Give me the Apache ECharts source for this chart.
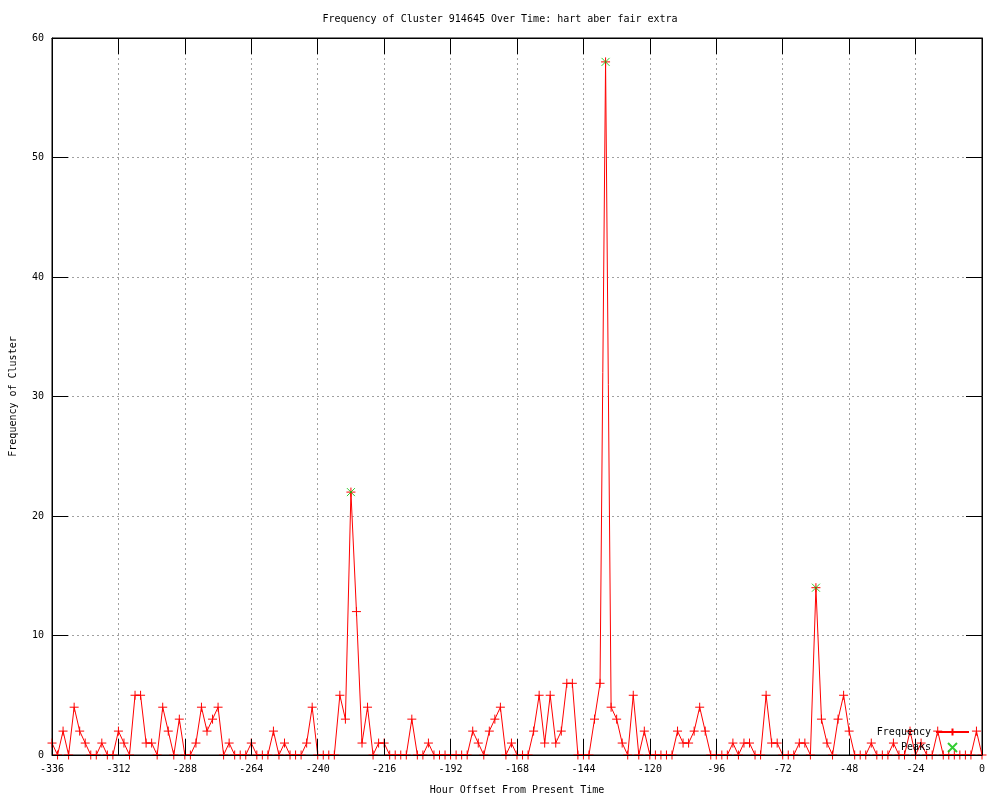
<!DOCTYPE html>
<html>
<head>
<meta charset="utf-8">
<script src="https://cdn.jsdelivr.net/npm/echarts@6/dist/echarts.min.js"></script>
<style>html,body{margin:0;padding:0;background:#fff}#c{width:1000px;height:800px}</style>
</head>
<body>
<div id="c"></div>
<script>
var hours = [-336,-334,-332,-330,-328,-326,-324,-322,-320,-318,-316,-314,-312,-310,-308,-306,-304,-302,-300,-298,
-296,-294,-292,-290,-288,-286,-284,-282,-280,-278,-276,-274,-272,-270,-268,-266,-264,-262,-260,-258,
-256,-254,-252,-250,-248,-246,-244,-242,-240,-238,-236,-234,-232,-230,-228,-226,-224,-222,-220,-218,
-216,-214,-212,-210,-208,-206,-204,-202,-200,-198,-196,-194,-192,-190,-188,-186,-184,-182,-180,-178,
-176,-174,-172,-170,-168,-166,-164,-162,-160,-158,-156,-154,-152,-150,-148,-146,-144,-142,-140,-138,
-136,-134,-132,-130,-128,-126,-124,-122,-120,-118,-116,-114,-112,-110,-108,-106,-104,-102,-100,-98,
-96,-94,-92,-90,-88,-86,-84,-82,-80,-78,-76,-74,-72,-70,-68,-66,-64,-62,-60,-58,
-56,-54,-52,-50,-48,-46,-44,-42,-40,-38,-36,-34,-32,-30,-28,-26,-24,-22,-20,-18,
-16,-14,-12,-10,-8,-6,-4,-2,0];
var frequency = [1,0,2,0,4,2,1,0,0,1,0,0,2,1,0,5,5,1,1,0,
4,2,0,3,0,0,1,4,2,3,4,0,1,0,0,0,1,0,0,0,
2,0,1,0,0,0,1,4,0,0,0,0,5,3,22,12,1,4,0,1,
1,0,0,0,0,3,0,0,1,0,0,0,0,0,0,0,2,1,0,2,
3,4,0,1,0,0,0,2,5,1,5,1,2,6,6,0,0,0,3,6,
58,4,3,1,0,5,0,2,0,0,0,0,0,2,1,1,2,4,2,0,
0,0,0,1,0,1,1,0,0,5,1,1,0,0,0,1,1,0,14,3,
1,0,3,5,2,0,0,0,1,0,0,0,1,0,0,2,0,1,0,0,
2,0,0,0,0,0,0,2,0];
var peakHours = [-228, -136, -60];
var peakValues = [22, 58, 14];
var xTicks = {min: -336, max: 0, interval: 24};
var yTicks = {min: 0, max: 60, interval: 10};

var freqData = hours.map(function (h, i) { return [h, frequency[i]]; });
var peakData = peakHours.map(function (h, i) { return [h, peakValues[i]]; });

var FONT = 'DejaVu Sans Mono';
var chart = echarts.init(document.getElementById('c'), null, {renderer: 'canvas'});
var plus = 'path://M0,4L8,4M4,0L4,8';
var cross = 'path://M0,0L8,8M0,8L8,0';
chart.setOption({
  animation: false,
  backgroundColor: '#ffffff',
  textStyle: {fontFamily: FONT, fontSize: 10, color: '#000'},
  title: {
    text: 'Frequency of Cluster 914645 Over Time: hart aber fair extra',
    left: 'center', top: 9,
    textStyle: {fontFamily: FONT, fontSize: 10, fontWeight: 'normal', color: '#000'}
  },
  legend: {
    orient: 'vertical', align: 'right', right: 30, top: 727, padding: 0,
    itemWidth: 33, itemHeight: 9, itemGap: 5,
    textStyle: {fontFamily: FONT, fontSize: 10, color: '#000'},
    data: ['Frequency', 'Peaks']
  },
  grid: {left: 49, right: 18, top: 38, bottom: 40, show: true, borderColor: '#000', borderWidth: 1, backgroundColor: 'transparent'},
  xAxis: [{
    type: 'value', min: xTicks.min, max: xTicks.max, interval: xTicks.interval, z: 5,
    name: 'Hour Offset From Present Time', nameLocation: 'middle', nameGap: 30,
    nameTextStyle: {fontFamily: FONT, fontSize: 10, color: '#000'},
    axisLine: {show: true, onZero: false, lineStyle: {color: '#000', width: 1}},
    axisTick: {show: true, inside: true, length: 16, lineStyle: {color: '#000'}},
    axisLabel: {show: true, margin: 9, color: '#000', fontFamily: FONT, fontSize: 10},
    splitLine: {show: false}
  }, {
    type: 'value', position: 'top', min: xTicks.min, max: xTicks.max, interval: xTicks.interval, z: 0,
    axisLine: {show: true, onZero: false, lineStyle: {color: '#000', width: 1}},
    axisTick: {show: true, inside: true, length: 16, lineStyle: {color: '#000'}},
    axisLabel: {show: false},
    splitLine: {show: true, lineStyle: {color: '#a0a0a0', type: [2, 3], width: 1}}
  }],
  yAxis: [{
    type: 'value', min: yTicks.min, max: yTicks.max, interval: yTicks.interval, z: 5,
    name: 'Frequency of Cluster', nameLocation: 'middle', nameGap: 34, nameRotate: 90,
    nameTextStyle: {fontFamily: FONT, fontSize: 10, color: '#000'},
    axisLine: {show: true, onZero: false, lineStyle: {color: '#000', width: 1}},
    axisTick: {show: true, inside: true, length: 16, lineStyle: {color: '#000'}},
    axisLabel: {show: true, margin: 8, color: '#000', fontFamily: FONT, fontSize: 10},
    splitLine: {show: false}
  }, {
    type: 'value', position: 'right', min: yTicks.min, max: yTicks.max, interval: yTicks.interval, z: 0,
    axisLine: {show: true, onZero: false, lineStyle: {color: '#000', width: 1}},
    axisTick: {show: true, inside: true, length: 16, lineStyle: {color: '#000'}},
    axisLabel: {show: false},
    splitLine: {show: true, lineStyle: {color: '#a0a0a0', type: [2, 3], width: 1}}
  }],
  series: [{
    name: 'Frequency', type: 'line', xAxisIndex: 0, yAxisIndex: 0,
    data: freqData, symbol: plus, symbolSize: 9, showSymbol: true,
    lineStyle: {color: '#ff0000', width: 1},
    itemStyle: {color: '#ff0000', borderColor: '#ff0000', borderWidth: 1},
    emphasis: {disabled: true}, z: 2
  }, {
    name: 'Peaks', type: 'scatter', xAxisIndex: 0, yAxisIndex: 0,
    data: peakData, symbol: cross, symbolSize: 8,
    itemStyle: {color: '#00c000', borderColor: '#00c000', borderWidth: 1},
    emphasis: {disabled: true}, z: 3
  }]
});
</script>
</body>
</html>
